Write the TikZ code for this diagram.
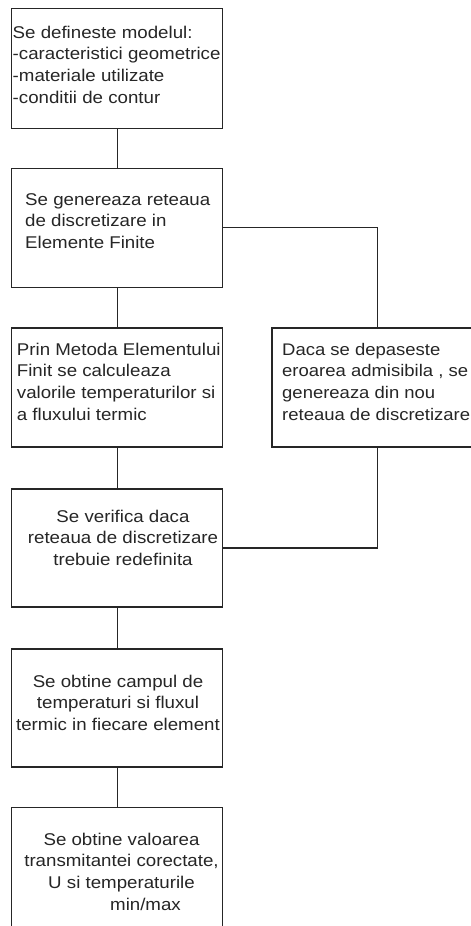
\documentclass[tikz,border=0pt]{standalone}
\usepackage{fontspec}
\setmainfont[FakeStretch=1.1]{Liberation Sans}
\begin{document}
\begin{tikzpicture}[x=1pt,y=-1pt,
  box/.style={draw=black!85, line width=1.2pt, rectangle, inner sep=0pt, minimum width=211pt},
  conn/.style={draw=black!85, line width=1.2pt},
  txtl/.style={inner sep=0pt, anchor=north west, align=left, text=black!85, font=\fontsize{17}{21.7}\selectfont},
  txtc/.style={inner sep=0pt, anchor=north, align=center, text=black!85, font=\fontsize{17}{21.7}\selectfont}]
\clip (0,0) rectangle (471,926);
\fill[white] (0,0) rectangle (471,926);
% boxes
\node[box, minimum height=120pt] (b1) at (117.2,68.3) {};
\node[box, minimum height=119pt] (b2) at (117.2,227.7) {};
\node[box, minimum height=119pt] (b3) at (117.2,387.5) {};
\node[box, minimum height=119pt] (r)  at (377.5,387.5) {};
\node[box, minimum height=118pt] (b4) at (117.2,548) {};
\node[box, minimum height=118pt] (b5) at (117.2,708) {};
\node[box, minimum height=120pt] (b6) at (117.2,867.3) {};
% texts
\node[txtl] (t1) at (12.5,22.8) {\strut Se defineste modelul:\\-caracteristici geometrice\\-materiale utilizate\\-conditii de contur};
\node[txtl] (t2) at (25,189.8) {\strut Se genereaza reteaua\\de discretizare in\\Elemente Finite};
\node[txtl] (t3) at (16.7,339.8) {\strut Prin Metoda Elementului\\Finit se calculeaza\\valorile temperaturilor si\\a fluxului termic};
\node[txtl, font=\fontsize{16.8}{21.7}\selectfont] (tr) at (282,339.8) {\strut Daca se depaseste\\eroarea admisibila , se\\genereaza din nou\\reteaua de discretizare};
\node[txtc] (t4) at (123,506.8) {\strut Se verifica daca\\reteaua de discretizare\\trebuie redefinita};
\node[txtc] (t5) at (118,671.8) {\strut Se obtine campul de\\temperaturi si fluxul\\termic in fiecare element};
\node[txtc] (t6) at (121.5,829.8) {\strut Se obtine valoarea\\transmitantei corectate,\\U si temperaturile\\\hspace*{48pt}min/max};
% connectors
\draw[conn] (b1.south) -- (b2.north);
\draw[conn] (b2.south) -- (b3.north);
\draw[conn] (b3.south) -- (b4.north);
\draw[conn] (b4.south) -- (b5.north);
\draw[conn] (b5.south) -- (b6.north);
\draw[conn] (b2.east) -| (r.north);
\draw[conn] (r.south) |- (b4.east);
\end{tikzpicture}
\end{document}
